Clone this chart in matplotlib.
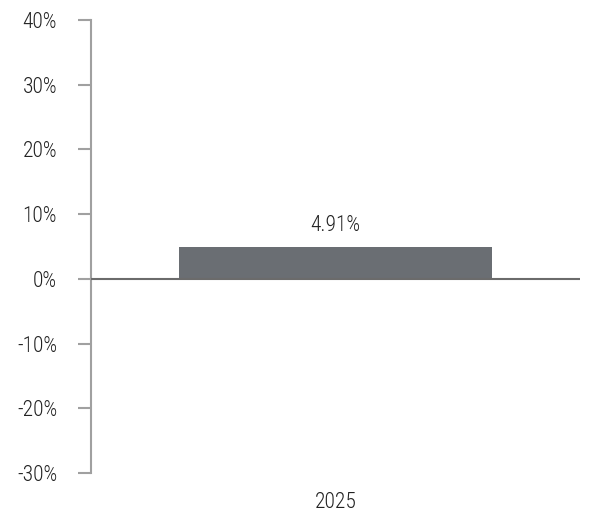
import matplotlib.pyplot as plt
from matplotlib.ticker import FuncFormatter

# data
categories = ["2025"]
values = [4.91]
y_ticks = [-30, -20, -10, 0, 10, 20, 30, 40]

plt.rcParams["font.family"] = ["Roboto Condensed", "Liberation Sans", "DejaVu Sans"]
plt.rcParams["font.weight"] = "light"

fig = plt.figure(figsize=(6, 5.32), dpi=100)
ax = fig.add_axes([0.1517, 0.1109, 0.815, 0.8515])

bars = ax.bar(range(len(categories)), values, width=0.64, color="#6a6e73")
for b, v in zip(bars, values):
    ax.text(b.get_x() + b.get_width() / 2, v + 1.7, f"{v:.2f}%",
            ha="center", va="bottom", fontsize=15.5, color="#222222")

ax.axhline(0, color="#6b6b6b", lw=1.5, zorder=3)

ax.set_xlim(-0.5, 0.5)
ax.set_ylim(-30, 40)
ax.set_yticks(y_ticks)
ax.yaxis.set_major_formatter(FuncFormatter(lambda v, p: f"{v:.0f}%"))
ax.set_xticks(range(len(categories)))
ax.set_xticklabels(categories)

for s in ["top", "right", "bottom"]:
    ax.spines[s].set_visible(False)
ax.spines["left"].set_color("#a0a0a0")
ax.spines["left"].set_linewidth(1.5)

ax.tick_params(axis="y", length=9.4, width=1.5, color="#a0a0a0",
               labelsize=15.5, labelcolor="#222222", pad=15)
ax.tick_params(axis="x", length=0, labelsize=15.5, labelcolor="#222222", pad=14)

fig.savefig("out.png", dpi=100)
